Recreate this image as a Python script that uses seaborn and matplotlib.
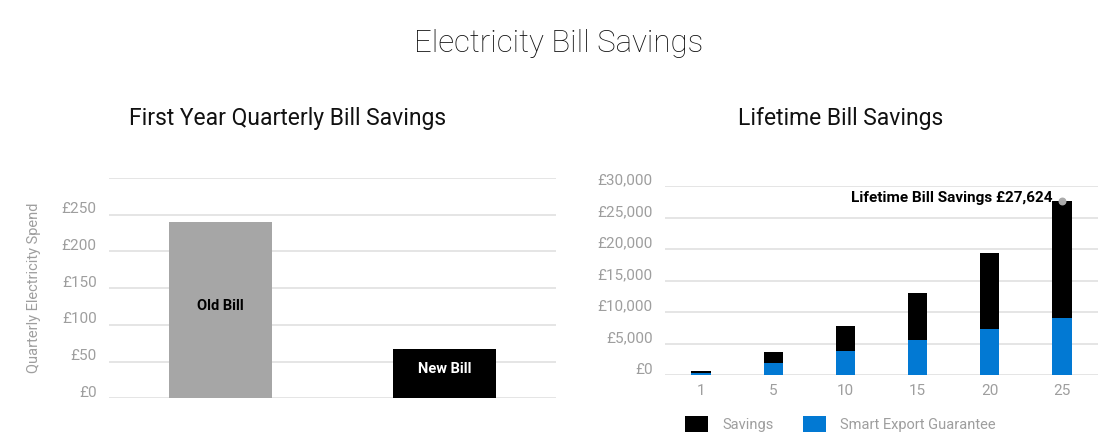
import matplotlib
matplotlib.use("Agg")
import matplotlib.pyplot as plt
import matplotlib.transforms as mtransforms
from matplotlib.patches import Patch
import seaborn as sns
import pandas as pd
import numpy as np

# ---- data ----
bill_labels = ["Old Bill", "New Bill"]
bill_values = [240, 67]

years = ["1", "5", "10", "15", "20", "25"]
seg_values = [400, 1950, 3800, 5600, 7350, 9050]
savings_values = [280, 1690, 4060, 7400, 12030, 18574]
lifetime_label = "Lifetime Bill Savings £27,624"

left_ticks = [0, 50, 100, 150, 200, 250]
left_ticklabels = ["£0", "£50", "£100", "£150", "£200", "£250"]
right_ticks = [0, 5000, 10000, 15000, 20000, 25000, 30000]
right_ticklabels = ["£0", "£5,000", "£10,000", "£15,000", "£20,000", "£25,000", "£30,000"]

sns.set_theme(style="white")
plt.rcParams["font.family"] = ["Roboto", "DejaVu Sans"]

GRID = "#E3E3E3"
TICK = "#9E9E9E"
BLUE = "#0279D3"
GRAY = "#A6A6A6"

W, H = 1116, 447
fig = plt.figure(figsize=(W / 100, H / 100), dpi=100)

def px_axes(x0, y0, x1, y1):
    return fig.add_axes([x0 / W, 1 - y1 / H, (x1 - x0) / W, (y1 - y0) / H])

# ---- left chart ----
axL = px_axes(109, 178, 556, 398.3)
dfL = pd.DataFrame({"bill": bill_labels, "value": bill_values})
sns.barplot(data=dfL, x="bill", y="value", hue="bill", palette=[GRAY, "#000000"],
            width=0.46, legend=False, ax=axL, linewidth=0, saturation=1)
axL.set_ylim(0, 300)
axL.set_xlim(-0.5, 1.5)
axL.set_yticks(left_ticks + [300])
axL.set_yticklabels(left_ticklabels + [""])
axL.set_xticks([])
axL.set_xlabel("")
axL.set_ylabel("Quarterly Electricity Spend", color=TICK, fontsize=10.5, labelpad=15)
for i, (lab, v) in enumerate(zip(bill_labels, bill_values)):
    axL.text(i, v / 2 + 6, lab, ha="center", va="center", fontsize=10.5,
             fontweight="bold", color="black" if i == 0 else "white")

# ---- right chart ----
axR = px_axes(665, 186, 1098, 375.3)
totals = [s + g for s, g in zip(seg_values, savings_values)]
dfR = pd.DataFrame({"year": years, "total": totals, "seg": seg_values})
sns.barplot(data=dfR, x="year", y="total", color="#000000", width=0.27,
            ax=axR, linewidth=0, saturation=1)
sns.barplot(data=dfR, x="year", y="seg", color=BLUE, width=0.27,
            ax=axR, linewidth=0, saturation=1)
axR.set_ylim(0, 30000)
axR.set_xlim(-0.5, len(years) - 0.5)
axR.set_yticks(right_ticks)
axR.set_yticklabels(right_ticklabels)
axR.set_xlabel("")
axR.set_ylabel("")
axR.scatter([len(years) - 1], [totals[-1]], s=22, color="#AAAAAA", zorder=1)
axR.annotate(lifetime_label, xy=(len(years) - 1, totals[-1]), xytext=(-7, 2.5),
             textcoords="offset points", ha="right", va="center",
             fontsize=11, fontweight="bold", color="black")

for ax in (axL, axR):
    for s in ax.spines.values():
        s.set_visible(False)
    ax.set_axisbelow(True)
    ax.grid(axis="y", color=GRID, linewidth=1.3)
    ax.grid(axis="x", visible=False)
    ax.tick_params(axis="y", length=0, pad=8.8, labelsize=11, labelcolor=TICK)
    ax.tick_params(axis="x", length=0, pad=6, labelsize=11, labelcolor=TICK)
    off = mtransforms.ScaledTranslation(0, 7 / 100, fig.dpi_scale_trans)
    for lbl in ax.get_yticklabels():
        lbl.set_transform(lbl.get_transform() + off)

# ---- titles ----
fig.text(559 / W, 1 - 43 / H, "Electricity Bill Savings", ha="center", va="center",
         fontsize=22.5, fontweight="light", color="#111111")
fig.text(287.5 / W, 1 - 119 / H, "First Year Quarterly Bill Savings", ha="center",
         va="center", fontsize=16.5, color="#111111")
fig.text(841 / W, 1 - 119 / H, "Lifetime Bill Savings", ha="center",
         va="center", fontsize=16.5, color="#111111")

# ---- legend ----
handles = [Patch(facecolor="#000000", edgecolor="none", label="Savings"),
           Patch(facecolor=BLUE, edgecolor="none", label="Smart Export Guarantee")]
leg = fig.legend(handles=handles, loc="center left", bbox_to_anchor=(685 / W, 1 - 424 / H),
                 ncol=2, frameon=False, fontsize=10.5, handlelength=1.6, handleheight=1.3,
                 handletextpad=0.95, columnspacing=2.0, borderpad=0, borderaxespad=0)
for t in leg.get_texts():
    t.set_color(TICK)

fig.savefig("out.png", dpi=100)
